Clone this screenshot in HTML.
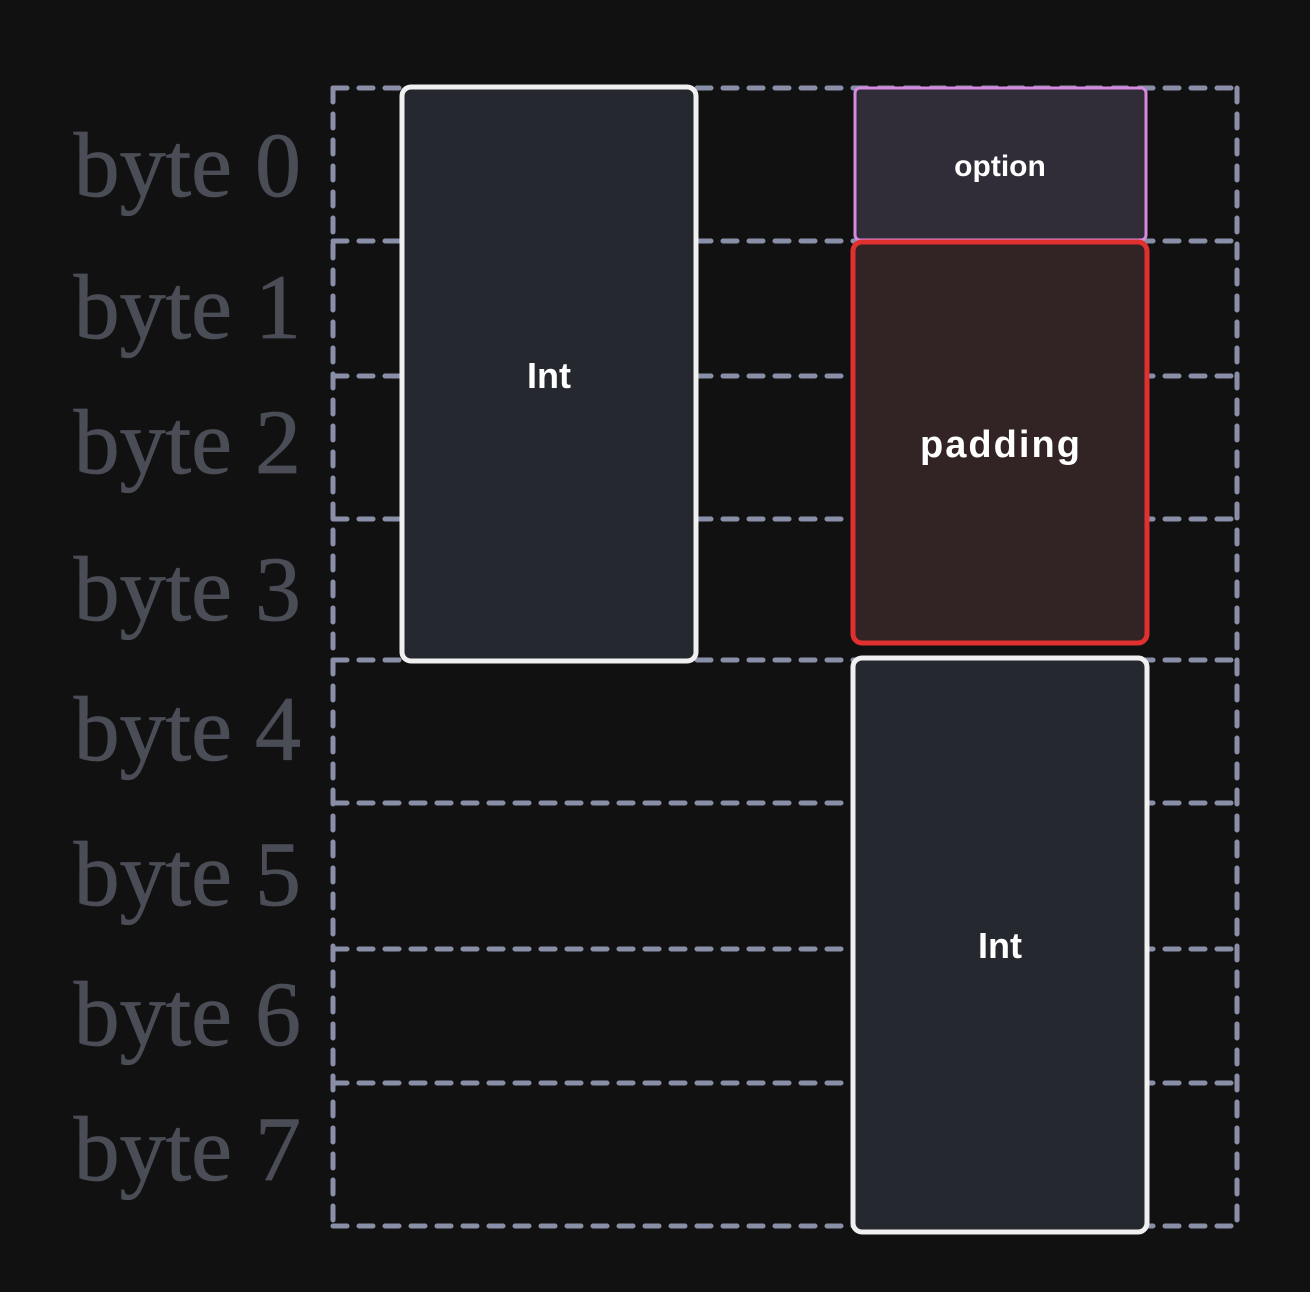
<!DOCTYPE html>
<html><head><meta charset="utf-8"><style>
html,body{margin:0;padding:0;background:#111112;width:1310px;height:1292px;overflow:hidden}
</style></head><body>
<svg width="1310" height="1292" xmlns="http://www.w3.org/2000/svg">
<rect width="1310" height="1292" fill="#111112"/>
<g stroke="#8a8fa8" stroke-width="5" stroke-dasharray="14 12" stroke-linecap="round" fill="none">
<line x1="333" y1="88" x2="1237" y2="88"/>
<line x1="333" y1="241" x2="1237" y2="241"/>
<line x1="333" y1="376" x2="1237" y2="376"/>
<line x1="333" y1="519" x2="1237" y2="519"/>
<line x1="333" y1="660" x2="1237" y2="660"/>
<line x1="333" y1="803" x2="1237" y2="803"/>
<line x1="333" y1="949" x2="1237" y2="949"/>
<line x1="333" y1="1083" x2="1237" y2="1083"/>
<line x1="333" y1="1226" x2="1237" y2="1226"/>
<line x1="333" y1="88" x2="333" y2="1226"/>
<line x1="1237" y1="88" x2="1237" y2="1226"/>
</g>
<g font-family="Liberation Serif, serif" font-size="92" fill="#4a4c56" text-anchor="end" stroke="#4a4c56" stroke-width="0.8">
<text x="301" y="196">byte 0</text>
<text x="301" y="338">byte 1</text>
<text x="301" y="473">byte 2</text>
<text x="301" y="620">byte 3</text>
<text x="301" y="760">byte 4</text>
<text x="301" y="905">byte 5</text>
<text x="301" y="1045">byte 6</text>
<text x="301" y="1180">byte 7</text>
</g>
<rect x="402" y="87" width="294" height="574" rx="9" fill="#25282e" stroke="#f0f0f0" stroke-width="5"/>
<rect x="855" y="88" width="291" height="152" rx="5" fill="#302c38" stroke="#d68ae0" stroke-width="3"/>
<rect x="853" y="242" width="294" height="401" rx="9" fill="#322424" stroke="#e03030" stroke-width="5"/>
<rect x="853" y="658" width="294" height="574" rx="9" fill="#25282e" stroke="#f0f0f0" stroke-width="5"/>
<g font-family="Liberation Sans, sans-serif" font-weight="bold" fill="#ffffff" text-anchor="middle">
<text x="549" y="388" font-size="36">Int</text>
<text x="1000" y="176" font-size="30">option</text>
<text x="1000" y="457" font-size="38" textLength="160">padding</text>
<text x="1000" y="958" font-size="36">Int</text>
</g>
</svg>
</body></html>
